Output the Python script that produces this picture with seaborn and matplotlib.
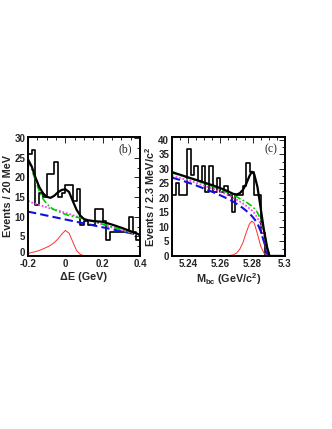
import numpy as np
import pandas as pd
import matplotlib
matplotlib.use("Agg")
import matplotlib.pyplot as plt
import matplotlib.transforms as mtransforms
import seaborn as sns
from matplotlib.ticker import MultipleLocator

sns.set_theme(style="white")
plt.rcParams['font.family'] = ['Liberation Sans', 'DejaVu Sans']
plt.rcParams['mathtext.fontset'] = 'custom'
plt.rcParams['mathtext.rm'] = 'Liberation Sans:bold'
plt.rcParams['mathtext.it'] = 'Liberation Sans:bold'
plt.rcParams['mathtext.bf'] = 'Liberation Sans:bold'

# ---------------- panel (b): Delta E ----------------
de_edges = [round(-0.2 + 0.02 * i, 2) for i in range(31)]
de_counts = [26, 27, 13, 16, 15, 21, 21, 24, 15, 16,
             18, 18, 14, 17, 8, 9, 8, 8, 12, 12,
             9, 4, 6, 6, 6, 6, 6, 10, 6, 4]

de_x = [-0.2, -0.18, -0.16, -0.14, -0.12, -0.1, -0.08, -0.06, -0.04, -0.02,
        0.0, 0.02, 0.04, 0.06, 0.08, 0.1, 0.12, 0.15, 0.2, 0.25, 0.3, 0.35, 0.4]
de_total = [24.6, 22.8, 20.0, 17.6, 16.0, 15.1, 14.8, 15.3, 16.2, 16.8,
            17.0, 16.3, 14.0, 11.8, 10.3, 9.4, 9.1, 8.9, 8.7, 8.0, 7.2, 6.3, 5.4]
de_bkg_all = [24.4, 22.0, 19.2, 16.6, 14.6, 13.3, 12.4, 11.8, 11.4, 11.0,
              10.6, 10.3, 10.1, 9.9, 9.7, 9.4, 9.2, 8.8, 8.1, 7.4, 6.7, 6.1, 5.5]
de_bkg_qq = [14.0, 13.6, 13.3, 13.0, 12.7, 12.4, 12.1, 11.8, 11.6, 11.3,
             11.0, 10.7, 10.4, 10.1, 9.8, 9.5, 9.2, 8.8, 8.0, 7.3, 6.6, 5.9, 5.3]
de_bkg_cont = [11.3, 11.1, 10.9, 10.7, 10.5, 10.3, 10.1, 9.9, 9.7, 9.5,
               9.3, 9.1, 8.9, 8.7, 8.5, 8.3, 8.1, 7.8, 7.3, 6.8, 6.3, 5.8, 5.3]
de_signal = [0.6, 0.9, 1.1, 1.4, 1.8, 2.2, 2.7, 3.4, 4.3, 5.5,
             6.5, 5.8, 3.6, 1.4, 0.4, 0.05, 0.0, 0.0, 0.0, 0.0, 0.0, 0.0, 0.0]

# ---------------- panel (c): Mbc ----------------
mbc_edges = [5.23 + 0.09 / 39 * i for i in range(27)]
mbc_counts = [21, 25, 21, 21, 37, 28, 31, 26, 31, 22,
              31, 22, 27, 22, 24, 21, 15, 21, 21, 24,
              32, 29, 21, 21, 8, 0]

mbc_x = [5.23, 5.235, 5.24, 5.245, 5.25, 5.255, 5.26, 5.265, 5.268, 5.27,
         5.272, 5.274, 5.276, 5.278, 5.2795, 5.281, 5.283, 5.285, 5.287,
         5.289, 5.2905, 5.3]
mbc_total = [28.9, 28.0, 27.1, 26.2, 25.3, 24.4, 23.4, 22.2, 21.4, 21.2,
             21.6, 22.8, 24.8, 27.5, 29.0, 28.2, 23.8, 16.5, 9.0, 3.0, 0.0, 0.0]
mbc_bkg_all = [28.6, 27.8, 26.9, 26.0, 25.0, 24.0, 22.9, 21.7, 20.9, 20.4,
               19.8, 19.2, 18.6, 17.8, 17.2, 16.4, 15.0, 12.6, 9.0, 3.0, 0.0, 0.0]
mbc_bkg_qq = [27.6, 26.9, 26.1, 25.2, 24.2, 23.2, 22.1, 20.9, 20.0, 19.4,
              18.8, 18.1, 17.3, 16.4, 15.7, 14.8, 13.2, 10.8, 7.4, 2.2, 0.0, 0.0]
mbc_bkg_cont = [27.0, 26.2, 25.3, 24.3, 23.2, 22.1, 20.9, 19.6, 18.7, 18.0,
                17.3, 16.5, 15.6, 14.6, 13.8, 12.8, 11.2, 8.6, 5.0, 0.8, 0.0, 0.0]
mbc_signal = [0.0, 0.0, 0.0, 0.0, 0.0, 0.0, 0.0, 0.1, 0.4, 1.0,
              2.3, 4.6, 8.0, 11.0, 12.0, 11.3, 7.6, 3.4, 1.0, 0.2, 0.0, 0.0]

fig = plt.figure(figsize=(3.32, 4.29), dpi=100)
ax_b = fig.add_axes([0.0843, 0.4033, 0.3373, 0.2774])
ax_c = fig.add_axes([0.518, 0.4033, 0.340, 0.2774])


def draw_panel(ax, edges, counts, xs, total, bkg_all, bkg_qq, bkg_cont, sig):
    centers = [(edges[i] + edges[i + 1]) / 2 for i in range(len(counts))]
    sns.histplot(x=centers, weights=counts, bins=edges, element="step",
                 fill=False, color="black", linewidth=1.2, ax=ax)
    sns.lineplot(x=xs, y=sig, color="#ff3030", linewidth=0.7, ax=ax)
    sns.lineplot(x=xs, y=bkg_cont, color="#1010e0", linewidth=1.5,
                 linestyle=(0, (4, 2)), ax=ax)
    sns.lineplot(x=xs, y=bkg_qq, color="#ff40ff", linewidth=1.3,
                 linestyle=(0, (1, 1)), ax=ax)
    sns.lineplot(x=xs, y=bkg_all, color="#00cc00", linewidth=1.2,
                 linestyle=(0, (4, 1.5, 1, 1.5)), ax=ax)
    sns.lineplot(x=xs, y=total, color="black", linewidth=1.6, ax=ax)
    for s in ax.spines.values():
        s.set_linewidth(1.4)
        s.set_color("black")
    ax.tick_params(which="both", direction="in", top=True, right=True,
                   labelsize=7, pad=2, color="black", width=0.6)
    ax.tick_params(which="major", length=4)
    ax.tick_params(which="minor", length=2)


draw_panel(ax_b, de_edges, de_counts, de_x, de_total, de_bkg_all,
           de_bkg_qq, de_bkg_cont, de_signal)
ax_b.set_xlim(-0.2, 0.4)
ax_b.set_ylim(0, 30.3)
ax_b.xaxis.set_minor_locator(MultipleLocator(0.05))
ax_b.yaxis.set_minor_locator(MultipleLocator(2.5))
ax_b.set_xticks([-0.2, 0.0, 0.2, 0.4])
ax_b.set_xticklabels(["-0.2", "0", "0.2", "0.4"], fontweight="bold")
ax_b.set_yticks([0, 5, 10, 15, 20, 25, 30])
ax_b.set_yticklabels(["0", "5", "10", "15", "20", "25", "30"], fontweight="bold")
ax_b.set_xlabel("ΔE (GeV)", fontsize=7.8, fontweight="bold", labelpad=2)
ax_b.set_ylabel("Events / 20 MeV", fontsize=7.8, fontweight="bold", labelpad=1)
ax_b.text(0.93, 0.9, "(b)", transform=ax_b.transAxes, ha="right", va="center",
          fontsize=8.5, family="Liberation Serif")

draw_panel(ax_c, mbc_edges, mbc_counts, mbc_x, mbc_total, mbc_bkg_all,
           mbc_bkg_qq, mbc_bkg_cont, mbc_signal)
ax_c.set_xlim(5.23, 5.30)
ax_c.set_ylim(0, 41)
ax_c.set_xticks([5.24, 5.26, 5.28, 5.30])
ax_c.set_xticklabels(["5.24", "5.26", "5.28", "5.3"], fontweight="bold")
ax_c.xaxis.set_minor_locator(MultipleLocator(0.005))
ax_c.set_yticks([0, 5, 10, 15, 20, 25, 30, 35, 40])
ax_c.set_yticklabels([str(v) for v in [0, 5, 10, 15, 20, 25, 30, 35, 40]],
                     fontweight="bold")
ax_c.yaxis.set_minor_locator(MultipleLocator(2.5))
ax_c.set_xlabel(r"M$_{\mathrm{bc}}$ (GeV/c$^{2}$)", fontsize=7.8,
                fontweight="bold", labelpad=2)
ax_c.set_ylabel(r"Events / 2.3 MeV/c$^{2}$", fontsize=7.8, fontweight="bold",
                labelpad=1)
ax_c.text(0.93, 0.9, "(c)", transform=ax_c.transAxes, ha="right", va="center",
          fontsize=8.5, family="Liberation Serif")

# nudge the "0" y tick label of panel (b) up so it clears "-0.2"
fig.canvas.draw()
zero_lab = ax_b.get_yticklabels()[0]
zero_lab.set_transform(zero_lab.get_transform() +
                       mtransforms.ScaledTranslation(0, 3 / 72, fig.dpi_scale_trans))

fig.savefig("out.png", dpi=100)
